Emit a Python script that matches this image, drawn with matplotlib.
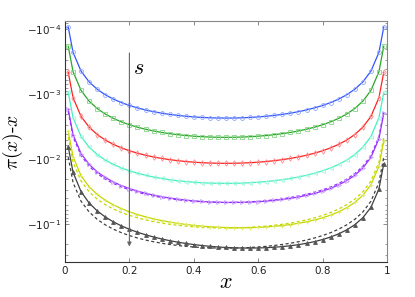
import matplotlib
matplotlib.use("Agg")
import matplotlib.pyplot as plt
from matplotlib.ticker import FixedLocator, FixedFormatter, LogLocator, NullFormatter

# ---------------- data ----------------
x = [0.01, 0.025, 0.05, 0.075, 0.1, 0.125, 0.15, 0.175, 0.2, 0.225, 0.25,
     0.275, 0.3, 0.325, 0.35, 0.375, 0.4, 0.425, 0.45, 0.475, 0.5,
     0.525, 0.55, 0.575, 0.6, 0.625, 0.65, 0.675, 0.7, 0.725, 0.75,
     0.775, 0.8, 0.825, 0.85, 0.875, 0.9, 0.925, 0.95, 0.975, 0.99]

# pi(x) - x  (negative values), one array per s
blue = [-9.15e-5, -2.25e-4, -4.39e-4, -6.41e-4, -8.32e-4, -1.011e-3, -1.178e-3, -1.334e-3,
        -1.478e-3, -1.611e-3, -1.733e-3, -1.842e-3, -1.940e-3, -2.027e-3, -2.102e-3,
        -2.166e-3, -2.218e-3, -2.258e-3, -2.287e-3, -2.304e-3, -2.310e-3,
        -2.304e-3, -2.287e-3, -2.258e-3, -2.218e-3, -2.166e-3, -2.102e-3, -2.027e-3,
        -1.940e-3, -1.842e-3, -1.733e-3, -1.611e-3, -1.478e-3, -1.334e-3, -1.178e-3,
        -1.011e-3, -8.32e-4, -6.41e-4, -4.39e-4, -2.25e-4, -9.15e-5]
green = [-1.81e-4, -4.46e-4, -8.69e-4, -1.270e-3, -1.647e-3, -2.002e-3, -2.333e-3, -2.642e-3,
         -2.928e-3, -3.191e-3, -3.431e-3, -3.649e-3, -3.843e-3, -4.015e-3, -4.163e-3,
         -4.289e-3, -4.392e-3, -4.472e-3, -4.529e-3, -4.564e-3, -4.575e-3,
         -4.564e-3, -4.529e-3, -4.472e-3, -4.392e-3, -4.289e-3, -4.163e-3, -4.015e-3,
         -3.843e-3, -3.649e-3, -3.431e-3, -3.191e-3, -2.928e-3, -2.642e-3, -2.333e-3,
         -2.002e-3, -1.647e-3, -1.270e-3, -8.69e-4, -4.46e-4, -1.81e-4]
red = [-4.55e-4, -1.121e-3, -2.185e-3, -3.191e-3, -4.14e-3, -5.03e-3, -5.865e-3, -6.641e-3,
       -7.36e-3, -8.021e-3, -8.625e-3, -9.171e-3, -9.66e-3, -1.0091e-2, -1.0465e-2,
       -1.0781e-2, -1.104e-2, -1.1241e-2, -1.1385e-2, -1.1471e-2, -1.15e-2,
       -1.1471e-2, -1.1385e-2, -1.1241e-2, -1.104e-2, -1.0781e-2, -1.0465e-2, -1.0091e-2,
       -9.66e-3, -9.171e-3, -8.625e-3, -8.021e-3, -7.36e-3, -6.641e-3, -5.865e-3,
       -5.03e-3, -4.14e-3, -3.191e-3, -2.185e-3, -1.121e-3, -4.55e-4]
cyan = [-9.27e-4, -2.282e-3, -4.446e-3, -6.494e-3, -8.424e-3, -1.0238e-2, -1.1934e-2, -1.3514e-2,
        -1.4976e-2, -1.6321e-2, -1.755e-2, -1.8662e-2, -1.9656e-2, -2.0534e-2, -2.1294e-2,
        -2.1938e-2, -2.2464e-2, -2.2874e-2, -2.3166e-2, -2.3342e-2, -2.34e-2,
        -2.3342e-2, -2.3166e-2, -2.2874e-2, -2.2464e-2, -2.1938e-2, -2.1294e-2, -2.0534e-2,
        -1.9656e-2, -1.8662e-2, -1.755e-2, -1.6321e-2, -1.4976e-2, -1.3514e-2, -1.1934e-2,
        -1.0238e-2, -8.424e-3, -6.494e-3, -4.446e-3, -2.282e-3, -9.27e-4]
purple = [-1.688e-3, -4.165e-3, -8.150e-3, -1.1951e-2, -1.5566e-2, -1.8993e-2, -2.2228e-2,
          -2.5270e-2, -2.8115e-2, -3.0762e-2, -3.3206e-2, -3.5447e-2, -3.7481e-2, -3.9305e-2,
          -4.0918e-2, -4.2316e-2, -4.3498e-2, -4.4459e-2, -4.5198e-2, -4.5713e-2, -4.6e-2,
          -4.6057e-2, -4.5882e-2, -4.5471e-2, -4.4822e-2, -4.3934e-2, -4.2802e-2, -4.1425e-2,
          -3.980e-2, -3.7923e-2, -3.5794e-2, -3.3408e-2, -3.0765e-2, -2.786e-2, -2.4692e-2,
          -2.1257e-2, -1.7554e-2, -1.3579e-2, -9.330e-3, -4.805e-3, -1.956e-3]
purple_approx = [-1.822e-3, -4.485e-3, -8.74e-3, -1.2765e-2, -1.656e-2, -2.0125e-2, -2.346e-2,
                 -2.6565e-2, -2.944e-2, -3.2085e-2, -3.45e-2, -3.6685e-2, -3.864e-2, -4.0365e-2,
                 -4.186e-2, -4.3125e-2, -4.416e-2, -4.4965e-2, -4.554e-2, -4.5885e-2, -4.6e-2,
                 -4.5885e-2, -4.554e-2, -4.4965e-2, -4.416e-2, -4.3125e-2, -4.186e-2, -4.0365e-2,
                 -3.864e-2, -3.6685e-2, -3.45e-2, -3.2085e-2, -2.944e-2, -2.6565e-2, -2.346e-2,
                 -2.0125e-2, -1.656e-2, -1.2765e-2, -8.74e-3, -4.485e-3, -1.822e-3]
yellow = [-3.674e-3, -9.105e-3, -1.7928e-2, -2.6457e-2, -3.4675e-2, -4.2569e-2, -5.0123e-2,
          -5.7323e-2, -6.4154e-2, -7.060e-2, -7.665e-2, -8.2286e-2, -8.7494e-2, -9.226e-2,
          -9.657e-2, -0.100406, -0.103757, -0.106606, -0.108940, -0.110742, -0.112,
          -0.112698, -0.112820, -0.112354, -0.111283, -0.109594, -0.107271, -0.104300,
          -0.100666, -9.6354e-2, -9.135e-2, -8.5639e-2, -7.9206e-2, -7.2037e-2, -6.4117e-2,
          -5.5431e-2, -4.5965e-2, -3.5703e-2, -2.4632e-2, -1.2735e-2, -5.196e-3]
yellow_approx = [-4.505e-3, -1.109e-2, -2.161e-2, -3.157e-2, -4.095e-2, -4.977e-2, -5.801e-2,
                 -6.569e-2, -7.28e-2, -7.934e-2, -8.531e-2, -9.072e-2, -9.555e-2, -9.982e-2,
                 -0.10351, -0.10664, -0.1092, -0.11119, -0.11261, -0.11347, -0.11375,
                 -0.11347, -0.11261, -0.11119, -0.1092, -0.10664, -0.10351, -9.982e-2,
                 -9.555e-2, -9.072e-2, -8.531e-2, -7.934e-2, -7.28e-2, -6.569e-2, -5.801e-2,
                 -4.977e-2, -4.095e-2, -3.157e-2, -2.161e-2, -1.109e-2, -4.505e-3]
gray = [-6.346e-3, -1.5825e-2, -3.1485e-2, -4.693e-2, -6.2107e-2, -7.6968e-2, -9.1458e-2,
        -0.10553, -0.11913, -0.13221, -0.14471, -0.15659, -0.1678, -0.17828, -0.18798,
        -0.19685, -0.20484, -0.21190, -0.21799, -0.22303, -0.227,
        -0.22983, -0.23147, -0.23188, -0.23100, -0.22877, -0.22516, -0.22010, -0.21356,
        -0.20547, -0.19579, -0.18445, -0.17143, -0.15665, -0.14008, -0.12166, -0.10133,
        -7.9056e-2, -5.4775e-2, -2.8441e-2, -1.1632e-2]
gray_approx = [-9.207e-3, -2.2669e-2, -4.4175e-2, -6.4519e-2, -8.37e-2, -0.10172, -0.11858,
               -0.13427, -0.1488, -0.16217, -0.17438, -0.18542, -0.1953, -0.20402, -0.21158,
               -0.21797, -0.2232, -0.22727, -0.23018, -0.23192, -0.2325,
               -0.23192, -0.23018, -0.22727, -0.2232, -0.21797, -0.21158, -0.20402, -0.1953,
               -0.18542, -0.17438, -0.16217, -0.1488, -0.13427, -0.11858, -0.10172, -8.37e-2,
               -6.4519e-2, -4.4175e-2, -2.2669e-2, -9.207e-3]

x_ticks = [0, 0.2, 0.4, 0.6, 0.8, 1]
x_ticklabels = ["0", "0.2", "0.4", "0.6", "0.8", "1"]
y_ticks = [-1e-4, -1e-3, -1e-2, -1e-1]
y_ticklabels = [r"$-10^{-4}$", r"$-10^{-3}$", r"$-10^{-2}$", r"$-10^{-1}$"]
arrow_x = 0.2
arrow_from = -2.3e-4
arrow_to = -0.22

# ---------------- drawing ----------------
fig = plt.figure(figsize=(4.15, 2.97), dpi=100)
ax = fig.add_axes([65 / 415, 35 / 297, 322 / 415, 241 / 297])

def mag(v):
    return [-t for t in v]

series = [
    (blue, None, "#3355ff", "o", "none", "#8fa5ff"),
    (green, None, "#2ba52b", "s", "none", "#86d486"),
    (red, None, "#ff2222", "d", "none", "#ff8c8c"),
    (cyan, None, "#44f0c0", "<", "none", "#a0f6de"),
    (purple, purple_approx, "#9933ff", ">", "none", "#c9a0ff"),
    (yellow, yellow_approx, "#c5d800", "+", "#dde866", "#dde866"),
    (gray, gray_approx, "#404040", "^", "#555555", "#555555"),
]

for vals, approx, col, mk, mfc, mec in series:
    if approx is not None:
        ax.plot(x, mag(approx), color=col, lw=0.9, ls=(0, (2.5, 2)), zorder=2)
    ax.plot(x, mag(vals), color=col, lw=0.9, zorder=3)
    ax.plot(x, mag(vals), ls="none", marker=mk, ms=2.8, mfc=mfc, mec=mec,
            mew=0.6, zorder=4)

ax.set_yscale("log")
ax.set_xlim(0, 1)
ax.set_ylim(0.38, 7.4e-5)

ax.xaxis.set_major_locator(FixedLocator(x_ticks))
ax.xaxis.set_major_formatter(FixedFormatter(x_ticklabels))
ax.yaxis.set_major_locator(FixedLocator(mag(y_ticks)))
ax.yaxis.set_major_formatter(FixedFormatter(y_ticklabels))
ax.yaxis.set_minor_locator(LogLocator(base=10, subs=range(2, 10)))
ax.yaxis.set_minor_formatter(NullFormatter())

ax.tick_params(which="both", direction="in", top=True, right=True,
               labelsize=7.5, colors="#222222", pad=3)
ax.tick_params(which="major", length=3, width=0.6, color="#777777")
ax.tick_params(which="minor", length=1.8, width=0.5, color="#777777")
for side in ["left", "bottom"]:
    ax.spines[side].set_color("#333333")
    ax.spines[side].set_linewidth(0.8)
for side in ["top", "right"]:
    ax.spines[side].set_color("#888888")
    ax.spines[side].set_linewidth(0.8)

ax.set_xlabel(r"$x$", fontsize=16, math_fontfamily="cm", labelpad=-3)
ax.set_ylabel(r"$\pi(x)\text{-}x$", fontsize=14, math_fontfamily="cm", labelpad=1)

ax.annotate("", xy=(arrow_x, -arrow_to), xytext=(arrow_x, -arrow_from),
            arrowprops=dict(arrowstyle="-|>", color="#666666", lw=0.8,
                            mutation_scale=6, shrinkA=0, shrinkB=0), zorder=5)
ax.text(0.212, 3.9e-4, r"$s$", fontsize=16, math_fontfamily="cm",
        ha="left", va="center", zorder=6)

fig.savefig("out.png", dpi=100)
